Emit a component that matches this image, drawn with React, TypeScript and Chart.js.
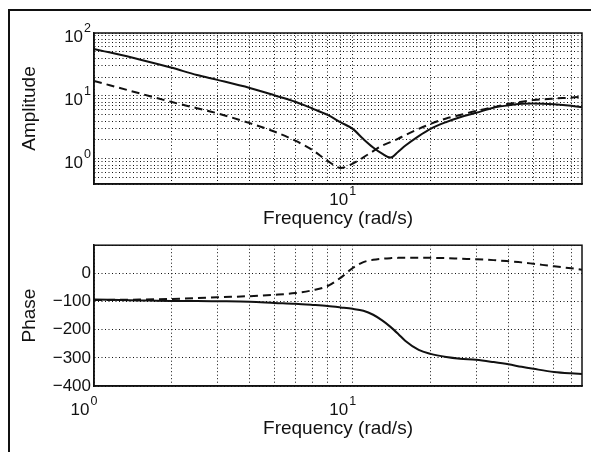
import React, { useEffect, useRef } from "react";
import { Chart, registerables } from "chart.js";

Chart.register(...registerables);

// ---- data ----
const freq = [1, 1.5, 2, 2.5, 3, 4, 5, 6, 7, 8, 9, 10, 11, 12, 13, 14, 15, 16, 18, 20, 23, 26, 30, 35, 40, 45, 50, 60, 70, 77];
const ampSolid = [56, 38, 28, 21.5, 18, 13.4, 10.2, 8.1, 6.3, 5.0, 3.8, 3.0, 2.07, 1.52, 1.21, 1.05, 1.3, 1.63, 2.3, 3.0, 3.85, 4.6, 5.4, 6.5, 7.1, 7.5, 7.6, 7.4, 7.0, 6.6];
const ampDashed = [17.3, 11, 8.0, 6.4, 5.3, 3.7, 2.7, 1.95, 1.38, 0.93, 0.72, 0.84, 1.06, 1.33, 1.63, 1.85, 2.1, 2.4, 3.0, 3.6, 4.4, 5.0, 5.8, 6.6, 7.5, 8.1, 8.6, 9.1, 9.4, 9.7];
const phaseSolid = [-93, -96, -98, -98, -99, -101, -105, -108, -112, -116, -121, -126, -133, -147, -167, -190, -215, -240, -272, -286, -297, -303, -307, -315, -323, -332, -339, -350, -355, -357];
const phaseDashed = [-95, -93, -91, -88, -85, -81, -76, -70, -60, -45, -15, 19, 40, 48, 52, 54, 55, 55, 55, 55, 54, 52, 50, 47, 43, 39, 34, 25, 18, 13];

const freqGrid = [1, 2, 3, 4, 5, 6, 7, 8, 9, 10, 20, 30, 40, 50, 60, 70];
const ampGrid = [0.4, 0.5, 0.6, 0.7, 0.8, 0.9, 1, 2, 3, 4, 5, 6, 7, 8, 9, 10, 20, 30, 40, 50, 60, 70, 80, 90, 100];
const topFreqLabels = [10];
const bottomFreqLabels = [1, 10];
const ampLabels = [1, 10, 100];
const freqRange = [1, 77];
const ampRange = [0.4, 100];
const phaseRange = [-400, 100];

const FONT = "'Liberation Sans', Arial, Helvetica, sans-serif";
const INK = "#111";

const pts = (ys: number[]) => freq.map((f, i) => ({ x: f, y: ys[i] }));

function drawPow(ctx: CanvasRenderingContext2D, exp: number, x: number, y: number, align: "center" | "right") {
  ctx.font = `17px ${FONT}`;
  const wb = ctx.measureText("10").width;
  ctx.font = `12.5px ${FONT}`;
  const es = String(exp);
  const we = ctx.measureText(es).width;
  const total = wb + we + 1;
  const start = align === "center" ? x - total / 2 : x - total;
  ctx.textAlign = "left";
  ctx.textBaseline = "middle";
  ctx.font = `17px ${FONT}`;
  ctx.fillText("10", start, y);
  ctx.font = `12.5px ${FONT}`;
  ctx.fillText(es, start + wb + 1, y - 8);
}

function makeDecor(opts: { xLabels: number[]; xLabelDy: number; yLabels?: number[] }) {
  return {
    id: "decor",
    afterDraw(chart: any) {
      const { ctx, chartArea } = chart;
      ctx.save();
      ctx.strokeStyle = INK;
      ctx.lineWidth = 1.5;
      ctx.setLineDash([]);
      ctx.strokeRect(chartArea.left, chartArea.top, chartArea.right - chartArea.left, chartArea.bottom - chartArea.top);
      ctx.fillStyle = INK;
      const xs = chart.scales.x;
      opts.xLabels.forEach((v) => {
        const px = xs.getPixelForValue(v) - 10;
        drawPow(ctx, Math.round(Math.log10(v)), px, chartArea.bottom + opts.xLabelDy, "center");
      });
      if (opts.yLabels) {
        const ys = chart.scales.y;
        opts.yLabels.forEach((v) => {
          const py = ys.getPixelForValue(v);
          drawPow(ctx, Math.round(Math.log10(v)), chartArea.left - 3, py + 4, "right");
        });
      }
      ctx.restore();
    },
  };
}

const gridOpts = { color: INK, lineWidth: 1, drawTicks: false };
const borderOpts = { color: INK, width: 1.5, dash: [1, 2.5] };

function lineDs(data: number[], dashed: boolean) {
  return {
    data: pts(data),
    borderColor: INK,
    borderWidth: 2,
    borderDash: dashed ? [8, 5] : [],
    pointRadius: 0,
    fill: false,
    cubicInterpolationMode: "monotone" as const,
  };
}

export default function App() {
  const topRef = useRef<HTMLCanvasElement>(null);
  const botRef = useRef<HTMLCanvasElement>(null);

  useEffect(() => {
    const xAxis = (height: number, titleBottomPad: number) => ({
      type: "logarithmic" as const,
      min: freqRange[0],
      max: freqRange[1],
      afterBuildTicks: (s: any) => {
        s.ticks = freqGrid.map((v) => ({ value: v }));
      },
      afterFit: (s: any) => {
        s.height = height;
      },
      ticks: { display: false },
      grid: gridOpts,
      border: borderOpts,
      title: {
        display: true,
        text: "Frequency (rad/s)",
        color: INK,
        font: { family: FONT, size: 19 },
        padding: { top: 0, bottom: titleBottomPad },
      },
    });

    const top = new Chart(topRef.current!, {
      type: "line",
      data: { datasets: [lineDs(ampSolid, false), lineDs(ampDashed, true)] },
      options: {
        animation: false,
        responsive: false,
        layout: { padding: { top: 33, right: 9, left: 0, bottom: 0 } },
        plugins: { legend: { display: false }, tooltip: { enabled: false } },
        scales: {
          x: xAxis(48, 1.6),
          y: {
            type: "logarithmic",
            min: ampRange[0],
            max: ampRange[1],
            afterBuildTicks: (s: any) => {
              s.ticks = ampGrid.map((v) => ({ value: v }));
            },
            afterFit: (s: any) => {
              s.width = 94;
            },
            ticks: { display: false },
            grid: gridOpts,
            border: borderOpts,
            title: {
              display: true,
              text: "Amplitude",
              color: INK,
              font: { family: FONT, size: 19 },
              padding: { top: 18.6, bottom: 0 },
            },
          },
        },
      },
      plugins: [makeDecor({ xLabels: topFreqLabels, xLabelDy: 16, yLabels: ampLabels })],
    });

    const bot = new Chart(botRef.current!, {
      type: "line",
      data: { datasets: [lineDs(phaseSolid, false), lineDs(phaseDashed, true)] },
      options: {
        animation: false,
        responsive: false,
        layout: { padding: { top: 7, right: 9, left: 0, bottom: 0 } },
        plugins: { legend: { display: false }, tooltip: { enabled: false } },
        scales: {
          x: xAxis(66, 11.6),
          y: {
            type: "linear",
            min: phaseRange[0],
            max: phaseRange[1],
            afterFit: (s: any) => {
              s.width = 94;
            },
            ticks: {
              stepSize: 100,
              padding: 3,
              color: INK,
              font: { family: FONT, size: 17 },
              callback: (v: any) => (Number(v) === phaseRange[1] ? "" : String(v).replace("-", "\u2212")),
            },
            grid: gridOpts,
            border: borderOpts,
            title: {
              display: true,
              text: "Phase",
              color: INK,
              font: { family: FONT, size: 19 },
              padding: { top: 18.6, bottom: 0 },
            },
          },
        },
      },
      plugins: [makeDecor({ xLabels: bottomFreqLabels, xLabelDy: 24 })],
    });

    return () => {
      top.destroy();
      bot.destroy();
    };
  }, []);

  return (
    <div style={{ position: "absolute", left: 0, top: 0, width: 591, height: 452, background: "#fff", overflow: "hidden" }}>
      <div
        style={{
          position: "absolute",
          left: 8,
          top: 9,
          width: 700,
          height: 600,
          borderTop: `2px solid ${INK}`,
          borderLeft: `2px solid ${INK}`,
        }}
      />
      <canvas ref={topRef} width={591} height={232} style={{ position: "absolute", left: 0, top: 0, display: "block" }} />
      <canvas ref={botRef} width={591} height={220} style={{ position: "absolute", left: 0, top: 232, display: "block" }} />
    </div>
  );
}
